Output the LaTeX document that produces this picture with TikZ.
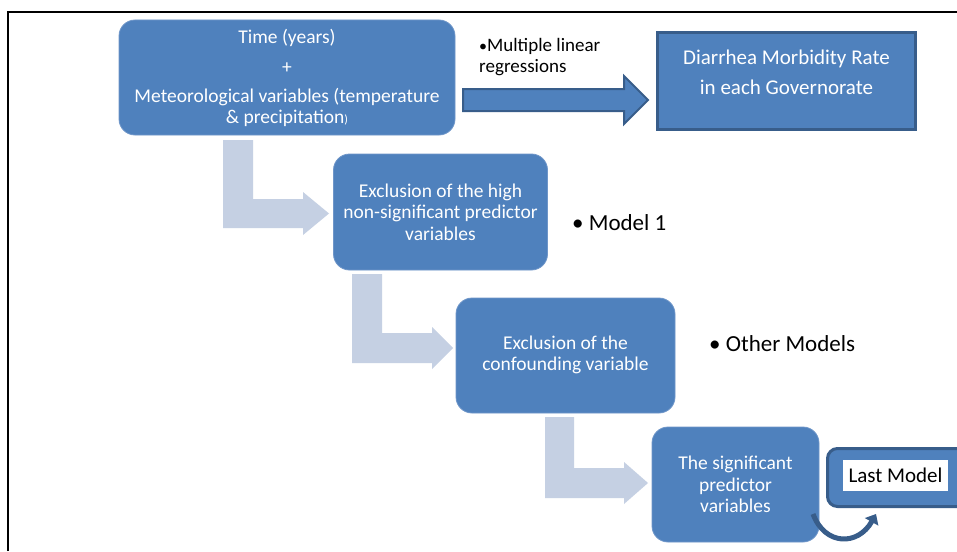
\documentclass[tikz,border=0pt]{standalone}
\usepackage{fontspec}
\setmainfont{Carlito}
\usetikzlibrary{arrows.meta}
\definecolor{mainblue}{HTML}{4F81BD}
\definecolor{darkblue}{HTML}{385D8A}
\definecolor{lightarrow}{HTML}{C5D0E3}
\definecolor{softedge}{HTML}{6F96C9}
\tikzset{
  rbox/.style={draw=softedge, line width=0.8pt, fill=mainblue, rounded corners=16pt, inner sep=0pt},
  wtext/.style={text=white, align=center, font=\fontsize{19.5}{21.5}\selectfont, inner sep=0pt},
  btext/.style={text=black, align=left, inner sep=0pt},
  larrow/.style={fill=lightarrow, draw=none},
}
\begin{document}
\begin{tikzpicture}[x=1pt,y=-1pt]
\clip (0,0) rectangle (957,551);
\fill[white] (0,0) rectangle (957,551);
% frame
\draw[line width=1.2pt] (8,551) -- (8,12) -- (957,12);

% top box
\node[rbox, minimum width=336pt, minimum height=115pt] (top) at (287,77.5) {};
\node[wtext] (toptxt) at (287,78) {Time (years)\\[8.5pt]+\\[7.5pt]Meteorological variables (temperature\\\& precipitation{\fontsize{12}{12}\selectfont)}};

% big arrow
\filldraw[fill=mainblue, draw=darkblue, line width=2pt]
  (463,89) -- (624,89) -- (624,76) -- (648,100) -- (624,124) -- (624,111) -- (463,111) -- cycle;
\node[btext, anchor=west, font=\fontsize{19}{21}\selectfont] (mlr) at (479,57.5) {{\fontsize{16}{16}\selectfont\textbullet}Multiple linear\\regressions};

% Diarrhea box
\node[draw=darkblue, line width=3pt, fill=mainblue, minimum width=258pt, minimum height=96pt, inner sep=0pt] (diar) at (786.5,81) {};
\node[wtext, font=\fontsize{21}{30}\selectfont] (diartxt) at (786.5,72) {Diarrhea Morbidity Rate\\in each Governorate};

% L-arrow 1
\fill[larrow] (223,140) -- (253,140) -- (253,199) -- (303,199) -- (303,192) -- (329,213.5) -- (303,235) -- (303,228) -- (223,228) -- cycle;

% box 2
\node[rbox, minimum width=214pt, minimum height=116pt] (b2) at (440.5,212) {};
\node[wtext] (b2txt) at (440.5,212) {Exclusion of the high\\non-significant predictor\\variables};
\node[btext, anchor=west, font=\fontsize{23}{26}\selectfont] (m1) at (572,223) {\textbullet\ Model 1};

% L-arrow 2
\fill[larrow] (352,274) -- (382,274) -- (382,333) -- (432,333) -- (432,327) -- (453,348) -- (432,369) -- (432,363) -- (352,363) -- cycle;

% box 3
\node[rbox, minimum width=219pt, minimum height=115pt] (b3) at (565.5,355.5) {};
\node[wtext] (b3txt) at (565.5,355) {Exclusion of the\\confounding variable};
\node[btext, anchor=west, font=\fontsize{23}{26}\selectfont] (m2) at (709,344) {\textbullet\ Other Models};

% L-arrow 3
\fill[larrow] (545,417) -- (574,417) -- (574,468) -- (624,468) -- (624,462) -- (648,483) -- (624,504) -- (624,498) -- (545,498) -- cycle;

% box 4
\node[rbox, minimum width=167pt, minimum height=115pt] (b4) at (735.5,484.5) {};
\node[wtext] (b4txt) at (735.5,484.5) {The significant\\predictor\\variables};

% Last model box
\node[draw=darkblue, line width=3pt, fill=mainblue, rounded corners=10pt, minimum width=150pt, minimum height=58pt, inner sep=0pt, anchor=west] (last) at (826,477.5) {};
\node[fill=white, minimum width=105pt, minimum height=31pt, inner sep=0pt, font=\fontsize{21}{22}\selectfont, text=black] (lasttxt) at (895.5,475.5) {Last Model};

% curved arrow
\coordinate (cstart) at (813,514);
\coordinate (cend) at (876,514);
\draw[darkblue, line width=5pt, -{Triangle[length=9pt,width=15pt]}] (cstart) .. controls (825,546) and (858,546) .. (cend);
\end{tikzpicture}
\end{document}
